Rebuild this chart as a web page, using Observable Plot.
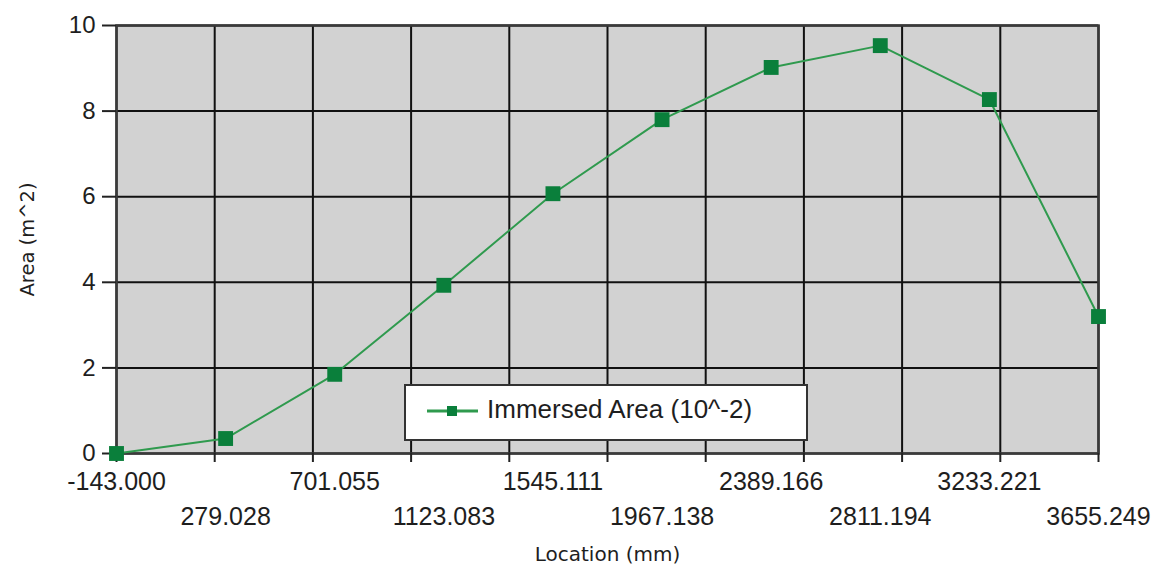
<!DOCTYPE html>
<html>
<head>
<meta charset="utf-8">
<script src="https://cdn.jsdelivr.net/npm/d3@7"></script>
<script src="https://cdn.jsdelivr.net/npm/@observablehq/plot@0.6"></script>
<style>
  body { margin: 0; background: #fff; }
  #chart { position: relative; width: 1152px; height: 565px; }
  #legend {
    position: absolute; left: 404px; top: 384px; width: 404px; height: 57px;
    box-sizing: border-box; border: 2px solid #333; background: #fff;
    font-family: "Liberation Sans", Arial, sans-serif; font-size: 26px; color: #1e1e1e;
  }
  #legend svg { position: absolute; left: 20px; top: 16px; }
  #legend span { position: absolute; left: 81px; top: 8px; line-height: 30px; white-space: nowrap; }
</style>
</head>
<body>
<div id="chart"></div>
<script>
// ---- data ----
const locations = [-143.000, 279.028, 701.055, 1123.083, 1545.111, 1967.138, 2389.166, 2811.194, 3233.221, 3655.249];
const areas = [0.00, 0.35, 1.85, 3.93, 6.07, 7.80, 9.02, 9.53, 8.27, 3.20];
const yTicks = [0, 2, 4, 6, 8, 10];
const seriesName = "Immersed Area (10^-2)";
const xTitle = "Location (mm)";
const yTitle = "Area (m^2)";
const gridDivisions = 10;

const lineColor = "#2f9a4e";
const markerColor = "#0a7f3b";

const data = locations.map((x, i) => ({x, y: areas[i]}));
const xMin = locations[0], xMax = locations[locations.length - 1];
const gridX = d3.range(gridDivisions + 1).map(k => xMin + k * (xMax - xMin) / gridDivisions);
const evenLabels = locations.filter((d, i) => i % 2 === 0);
const oddLabels = locations.filter((d, i) => i % 2 === 1);
const fmt = d => d.toFixed(3);

const chart = Plot.plot({
  width: 1152,
  height: 565,
  marginLeft: 116,
  marginRight: 54,
  marginTop: 25,
  marginBottom: 112,
  style: {fontFamily: "'Liberation Sans', Arial, sans-serif", fontSize: "25px", color: "#1e1e1e", background: "#fff", overflow: "visible"},
  x: {domain: [xMin, xMax]},
  y: {domain: [0, 10]},
  marks: [
    Plot.frame({fill: "#d2d2d2"}),
    Plot.gridY(yTicks, {stroke: "#111", strokeOpacity: 1, strokeWidth: 2}),
    Plot.ruleX(gridX, {stroke: "#111", strokeWidth: 2}),
    Plot.frame({stroke: "#3a3a3a", strokeWidth: 2.5}),
    Plot.axisY({ticks: yTicks, tickSize: 14, tickPadding: 7, fontSize: 24, label: null, stroke: "#222", strokeWidth: 2}),
    Plot.axisX({ticks: gridX, tickSize: 9, tickFormat: () => "", label: null, stroke: "#222", strokeWidth: 2}),
    Plot.axisX({ticks: evenLabels, tickSize: 0, tickPadding: 19, tickFormat: fmt, label: null, fontSize: 25}),
    Plot.axisX({ticks: oddLabels, tickSize: 0, tickPadding: 54, tickFormat: fmt, label: null, fontSize: 25}),
    Plot.line(data, {x: "x", y: "y", stroke: lineColor, strokeWidth: 2}),
    Plot.dot(data, {x: "x", y: "y", symbol: "square", r: 8.4, fill: markerColor, stroke: "none"}),
    Plot.text([xTitle], {frameAnchor: "bottom", lineAnchor: "middle", textAnchor: "middle", dy: 101, text: d => d, fontFamily: "'DejaVu Sans', Verdana, sans-serif", fontSize: 20, fill: "#1e1e1e"}),
    Plot.text([yTitle], {frameAnchor: "left", lineAnchor: "middle", textAnchor: "middle", dx: -89, rotate: -90, text: d => d, fontFamily: "'DejaVu Sans', Verdana, sans-serif", fontSize: 19.5, fill: "#1e1e1e"})
  ]
});

const container = document.getElementById("chart");
container.appendChild(chart);

const legend = document.createElement("div");
legend.id = "legend";
legend.innerHTML = `<svg width="53" height="20"><line x1="1" y1="9" x2="52" y2="9" stroke="${lineColor}" stroke-width="3"/><rect x="21" y="4" width="10" height="10" fill="${markerColor}"/></svg><span>${seriesName}</span>`;
container.appendChild(legend);
</script>
</body>
</html>
